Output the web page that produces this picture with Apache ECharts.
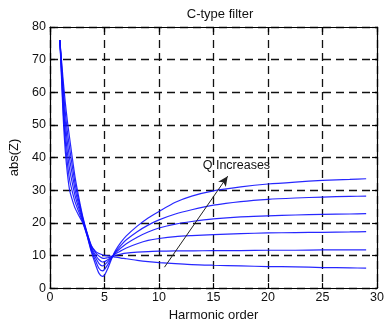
<!DOCTYPE html>
<html>
<head>
<meta charset="utf-8">
<script src="https://cdn.jsdelivr.net/npm/echarts@6/dist/echarts.min.js"></script>
<style>
  html, body { margin: 0; padding: 0; background: #fff; }
  #chart { width: 387px; height: 327px; }
</style>
</head>
<body>
<div id="chart"></div>
<script>
// Harmonic orders at which the impedance magnitude is sampled
const harmonicOrder = [0.9, 1, 1.2, 1.4, 1.6, 1.8, 2, 2.3, 2.6, 3, 3.4, 3.8, 4.2, 4.5, 4.8, 5, 5.3, 5.7, 6, 6.5, 7, 8, 9, 10, 11.5, 13, 15, 17.5, 20, 22.5, 25, 27.5, 29];

// |Z| of the C-type filter, one array per quality factor (lowest Q first)
const zQ1 = [76, 72, 64, 57, 51, 46, 41, 34, 28.5, 22, 17, 13, 11.2, 10.6, 10.2, 10, 9.9, 9.7, 9.5, 9.2, 9, 8.5, 8.1, 7.8, 7.5, 7.2, 7, 6.8, 6.6, 6.5, 6.3, 6.2, 6.1];
const zQ2 = [76, 71.5, 61.8, 54, 47.8, 42.8, 38.3, 32.1, 27.3, 21.6, 16.8, 12.8, 10.8, 9.8, 9.2, 9.1, 9.3, 9.6, 10, 10.4, 10.7, 11, 11.2, 11.3, 11.4, 11.4, 11.5, 11.5, 11.6, 11.6, 11.7, 11.7, 11.7];
const zQ3 = [76, 71, 59.6, 51, 44.6, 39.6, 35.6, 30.2, 26.1, 21.2, 16.6, 12.4, 10, 8.7, 8, 8.1, 8.7, 9.6, 10.5, 11.4, 12.3, 13.6, 14.6, 15.2, 15.8, 16.1, 16.4, 16.7, 16.9, 17, 17.1, 17.2, 17.3];
const zQ4 = [76, 70.2, 57.4, 48, 41.4, 36.4, 32.9, 28.3, 24.9, 20.8, 16.4, 12, 9.2, 7.5, 6.8, 7.1, 8.1, 9.6, 10.8, 12.3, 13.6, 15.6, 17.2, 18.4, 19.6, 20.4, 21.2, 21.8, 22.1, 22.4, 22.6, 22.7, 22.8];
const zQ5 = [76, 69.6, 55.2, 45, 38.2, 33.2, 30.2, 26.4, 23.7, 20.4, 16.2, 11.5, 8.2, 6, 5.3, 5.7, 7.2, 9.5, 11.1, 13.1, 14.8, 17.3, 19.3, 20.9, 22.7, 24, 25.4, 26.5, 27.2, 27.6, 27.9, 28.1, 28.2];
const zQ6 = [76, 69, 53, 42, 35, 30, 27.5, 24.5, 22.5, 20, 16, 11, 7, 4.5, 3.6, 4, 6, 9.4, 11.5, 14, 16, 19, 21.5, 23.5, 26.3, 28.2, 29.8, 31, 31.9, 32.5, 33, 33.3, 33.5];

const impedanceCurves = [zQ1, zQ2, zQ3, zQ4, zQ5, zQ6];

// Annotation arrow (data coordinates) and its caption
const arrowFrom = [10.5, 6.4];
const arrowTo = [16.3, 34.3];
const captionAt = [17.1, 37.7];
const captionText = 'Q Increases';

const font = 'Liberation Sans, Arial, sans-serif';
const textColor = '#111';
const tickFont = { fontFamily: font, fontSize: 12.5, color: textColor };

const chart = echarts.init(document.getElementById('chart'), null, { renderer: 'canvas' });

const curveSeries = impedanceCurves.map(curve => ({
  type: 'line',
  data: harmonicOrder.map((h, i) => [h, curve[i]]),
  smooth: 0.25,
  showSymbol: false,
  silent: true,
  lineStyle: { color: '#1010ff', width: 1.2, opacity: 0.9 }
}));

const annotationSeries = {
  type: 'line',
  data: [],
  silent: true,
  markLine: {
    silent: true,
    symbol: ['none', 'arrow'],
    symbolSize: [7, 10],
    label: { show: false },
    lineStyle: { color: '#222', width: 1, type: 'solid' },
    data: [[{ coord: arrowFrom }, { coord: arrowTo }]]
  },
  markPoint: {
    silent: true,
    symbol: 'circle',
    symbolSize: 0,
    label: {
      show: true,
      position: 'inside',
      formatter: captionText,
      fontFamily: font,
      fontSize: 12.5,
      color: textColor
    },
    data: [{ coord: captionAt }]
  }
};

const gridDash = { show: true, lineStyle: { color: '#111', width: 1.3, type: [8, 5] } };
const frameLine = { show: true, onZero: false, lineStyle: { color: '#000', width: 1.2 } };
const innerTick = { show: true, inside: true, length: 5, lineStyle: { color: '#000', width: 1.2 } };

chart.setOption({
  animation: false,
  backgroundColor: '#fff',
  title: {
    text: 'C-type filter',
    left: 215,
    top: 3,
    textAlign: 'center',
    textStyle: { fontFamily: font, fontSize: 13, fontWeight: 'normal', color: textColor }
  },
  grid: { left: 49, right: 4, top: 27, bottom: 36 },
  xAxis: [
    {
      type: 'value', min: 0, max: 30, interval: 5,
      name: 'Harmonic order', nameLocation: 'middle', nameGap: 18,
      nameTextStyle: { fontFamily: font, fontSize: 13, color: textColor },
      axisLine: frameLine,
      axisTick: innerTick,
      axisLabel: Object.assign({ margin: 3 }, tickFont),
      splitLine: gridDash
    },
    {
      type: 'value', min: 0, max: 30, interval: 5, position: 'top',
      axisLine: frameLine,
      axisTick: innerTick,
      axisLabel: { show: false },
      splitLine: { show: false }
    }
  ],
  yAxis: [
    {
      type: 'value', min: 0, max: 80, interval: 10,
      name: 'abs(Z)', nameLocation: 'middle', nameGap: 29,
      nameTextStyle: { fontFamily: font, fontSize: 13, color: textColor },
      axisLine: frameLine,
      axisTick: innerTick,
      axisLabel: Object.assign({ margin: 4 }, tickFont),
      splitLine: gridDash
    },
    {
      type: 'value', min: 0, max: 80, interval: 10, position: 'right',
      axisLine: frameLine,
      axisTick: innerTick,
      axisLabel: { show: false },
      splitLine: { show: false }
    }
  ],
  series: curveSeries.concat([annotationSeries])
});
</script>
</body>
</html>
